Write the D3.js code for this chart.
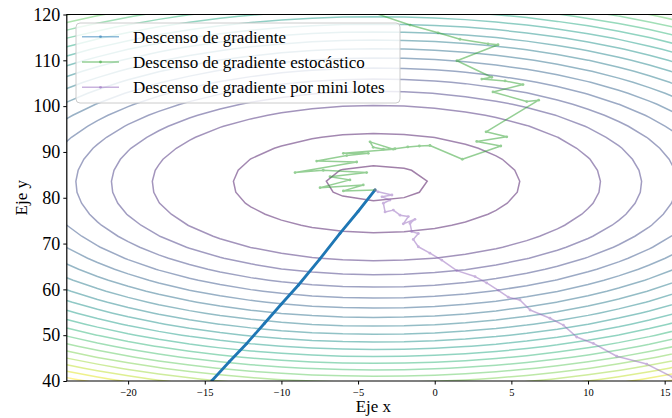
<!DOCTYPE html>
<html lang="es">
<head>
	<meta charset="utf-8">
	<title>Descenso de gradiente</title>
	<script src="https://d3js.org/d3.v7.min.js"></script>
	<style>
		body { margin: 0; background: #fff; }
		text { font-family: "Liberation Serif", "Times New Roman", serif; fill: #000; }
	</style>
</head>
<body>
	<div id="chart"></div>
	<script>
		// axis ticks
		let xTicks = [-20, -15, -10, -5, 0, 5, 10, 15];
		let yTicks = [40, 50, 60, 70, 80, 90, 100, 110, 120];

		// cost surface: bowl centre, axis weights and contour levels
		let bowlCenter = [-3.8, 83.2];
		let bowlWeights = [1.1, 0.82];
		let levels = [13, 97, 236, 330, 424, 518, 612, 706, 800, 894, 988, 1082,
			1176, 1270, 1364, 1458, 1552, 1646, 1740, 1834, 1928];

		// descent paths [x, y]
		let gdPath = [[-14.55, 40.0], [-13.4, 44.2], [-12.26, 48.2], [-11.1, 52.6], [-10.0, 56.8],
			[-8.9, 60.9], [-7.5, 66.6], [-6.18, 72.2], [-5.0, 77.0], [-3.89, 81.7]];

		let sgdPath = [[-4.09, 120.5], [-1.61, 117.7], [0.22, 116.0], [1.65, 114.6], [3.48, 113.6],
			[4.13, 113.4], [1.45, 109.9], [3.72, 106.3], [3.07, 105.9], [4.59, 105.5], [5.76, 104.7],
			[3.80, 103.1], [6.00, 101.0], [6.78, 101.3], [3.35, 94.4], [4.70, 93.3], [2.74, 92.3],
			[4.31, 91.3], [1.80, 88.4], [-0.31, 91.4], [-1.00, 91.3], [-1.76, 91.1], [-2.59, 90.7],
			[-3.35, 90.6], [-4.01, 91.0], [-4.22, 92.2], [-2.70, 90.6], [-5.96, 89.7], [-4.33, 89.7],
			[-5.74, 89.2], [-7.70, 88.0], [-5.09, 87.8], [-9.11, 85.5], [-7.27, 86.0], [-4.44, 85.5],
			[-6.83, 84.6], [-5.53, 83.9], [-7.48, 82.2], [-4.66, 82.8], [-5.96, 81.5], [-3.89, 81.7]];

		let mbPath = [[16.0, 39.8], [15.48, 40.9], [13.83, 43.7], [11.87, 45.4], [10.35, 48.2],
			[9.26, 49.6], [8.39, 52.2], [7.52, 53.7], [6.22, 55.5], [5.56, 57.7], [4.80, 58.3],
			[4.15, 59.8], [3.39, 61.4], [2.63, 62.8], [1.44, 64.1], [0.46, 66.4], [-0.31, 67.9],
			[-1.07, 69.3], [-1.40, 70.9], [-1.07, 72.2], [-1.50, 72.6], [-1.61, 74.4], [-1.29, 75.3],
			[-2.05, 74.3], [-1.72, 75.9], [-2.26, 76.2], [-2.70, 77.3], [-3.24, 76.9], [-3.35, 78.8],
			[-2.92, 79.5], [-3.44, 80.2], [-2.79, 80.6], [-3.70, 81.3], [-3.89, 81.7]];

		let seriesNames = ["Descenso de gradiente", "Descenso de gradiente estocástico",
			"Descenso de gradiente por mini lotes"];
		let seriesColors = ["#1f77b4", "#2ca02c", "#9467bd"];

		let width = 672, height = 418;
		let svg = d3.select("#chart").append("svg")
			.attr("width", width)
			.attr("height", height);

		let x = d3.scaleLinear().domain([-24, 16]).range([66.8, 680]);
		let y = d3.scaleLinear().domain([40, 120]).range([381, 14.5]);

		svg.append("clipPath").attr("id", "plotClip")
			.append("rect")
			.attr("x", x(-24)).attr("y", y(120))
			.attr("width", x(16) - x(-24)).attr("height", y(40) - y(120));

		let plot = svg.append("g").attr("clip-path", "url(#plotClip)");

		// contour grid (samples sit at cell centres in d3.contours), coarse like the original
		let gx0 = -28, gdx = 2.0, nx = 25;
		let gy0 = 33.2, gdy = 2.4, ny = 40;
		let values = [];
		for (let j = 0; j < ny; j++) {
			for (let i = 0; i < nx; i++) {
				let vx = gx0 + i * gdx, vy = gy0 + j * gdy;
				values.push(bowlWeights[0] * (vx - bowlCenter[0]) ** 2 + bowlWeights[1] * (vy - bowlCenter[1]) ** 2);
			}
		}
		let contours = d3.contours().size([nx, ny]).thresholds(levels)(values);
		let toPx = d3.geoTransform({
			point: function(gx, gy) {
				this.stream.point(x(gx0 + (gx - 0.5) * gdx), y(gy0 + (gy - 0.5) * gdy));
			}
		});
		let color = t => d3.interpolateViridis((t - levels[0]) / (levels[levels.length - 1] - levels[0]));

		plot.append("g").selectAll("path")
			.data(contours)
			.join("path")
			.attr("d", d3.geoPath(toPx))
			.attr("fill", "none")
			.attr("stroke", d => color(d.value))
			.attr("stroke-opacity", 0.5)
			.attr("stroke-width", 1.5);

		let line = d3.line().x(d => x(d[0])).y(d => y(d[1]));

		// paths with small dot markers
		let paths = [gdPath, sgdPath, mbPath];
		let widths = [2.8, 1.5, 1.5];
		let opac = [1, 0.5, 0.5];
		paths.forEach((p, k) => {
			let g = plot.append("g").attr("opacity", opac[k]);
			g.append("path")
				.datum(p)
				.attr("fill", "none")
				.attr("stroke", seriesColors[k])
				.attr("stroke-width", widths[k])
				.attr("stroke-linejoin", "round")
				.attr("d", line);
			g.selectAll("circle")
				.data(p)
				.join("circle")
				.attr("cx", d => x(d[0]))
				.attr("cy", d => y(d[1]))
				.attr("r", 1.4)
				.attr("fill", seriesColors[k]);
		});

		// frame
		svg.append("path")
			.attr("d", `M${x(16)},${y(120)}H${x(-24)}V${y(40)}H${x(16)}`)
			.attr("fill", "none")
			.attr("stroke", "#000")
			.attr("stroke-width", 1.2);

		// axes
		let xAxis = svg.append("g")
			.attr("transform", `translate(0,${y(40)})`)
			.call(d3.axisBottom(x).tickValues(xTicks).tickSize(3.5).tickPadding(4));
		xAxis.select(".domain").remove();
		xAxis.selectAll("text").style("font-size", "10.5px").style("font-family", "'Liberation Serif', serif");

		let yAxis = svg.append("g")
			.attr("transform", `translate(${x(-24)},0)`)
			.call(d3.axisLeft(y).tickValues(yTicks).tickSize(3.5).tickPadding(3));
		yAxis.select(".domain").remove();
		yAxis.selectAll("text").style("font-size", "18px").style("font-family", "'Liberation Serif', serif");

		svg.append("text")
			.attr("x", (x(-24) + 672) / 2 + 4)
			.attr("y", 412)
			.attr("text-anchor", "middle")
			.style("font-size", "17px")
			.text("Eje x");

		svg.append("text")
			.attr("transform", `translate(27,${(y(40) + y(120)) / 2}) rotate(-90)`)
			.attr("text-anchor", "middle")
			.style("font-size", "17px")
			.text("Eje y");

		// legend
		let legend = svg.append("g");
		legend.append("rect")
			.attr("x", 76).attr("y", 23)
			.attr("width", 324).attr("height", 80)
			.attr("rx", 4)
			.attr("fill", "#fff").attr("fill-opacity", 0.8)
			.attr("stroke", "#ccc").attr("stroke-width", 1);
		seriesNames.forEach((name, k) => {
			let ly = 36.7 + k * 25.3;
			let item = legend.append("g");
			item.append("line")
				.attr("x1", 82).attr("x2", 119)
				.attr("y1", ly).attr("y2", ly)
				.attr("stroke", seriesColors[k])
				.attr("stroke-opacity", 0.5)
				.attr("stroke-width", 1.5);
			item.append("circle")
				.attr("cx", 100.5).attr("cy", ly).attr("r", 1.4)
				.attr("fill", seriesColors[k]).attr("fill-opacity", 0.5);
			item.append("text")
				.attr("x", 133).attr("y", ly + 6)
				.style("font-size", "17px")
				.text(name);
		});
	</script>
</body>
</html>
